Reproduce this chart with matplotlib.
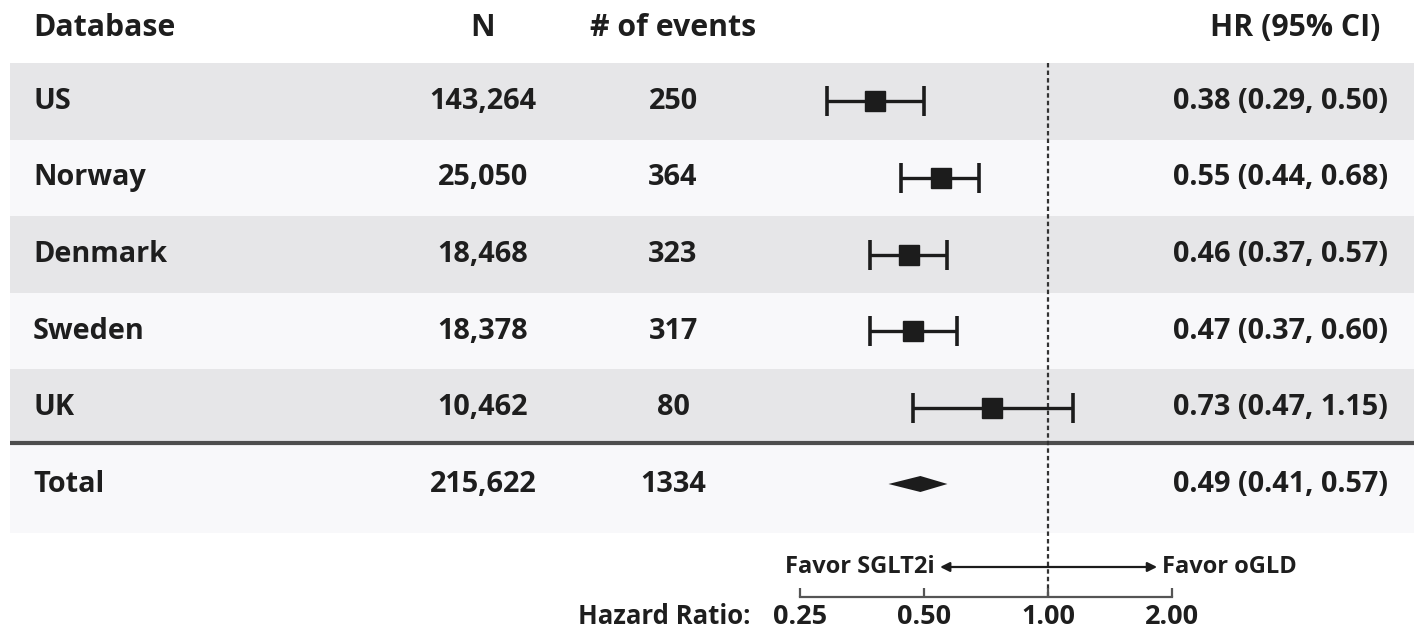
import matplotlib
matplotlib.use("Agg")
import matplotlib.pyplot as plt
import numpy as np

# ---- data ----
databases = ["US", "Norway", "Denmark", "Sweden", "UK"]
n_patients = ["143,264", "25,050", "18,468", "18,378", "10,462"]
n_events = ["250", "364", "323", "317", "80"]
hr = [0.38, 0.55, 0.46, 0.47, 0.73]
hr_lo = [0.29, 0.44, 0.37, 0.37, 0.47]
hr_hi = [0.50, 0.68, 0.57, 0.60, 1.15]
total_label = "Total"
total_n = "215,622"
total_events = "1334"
total_hr, total_lo, total_hi = 0.49, 0.41, 0.57
headers = ["Database", "N", "# of events", "HR (95% CI)"]
hr_ticks = [0.25, 0.50, 1.00, 2.00]
favor_left = "Favor SGLT2i"
favor_right = "Favor oGLD"
axis_title = "Hazard Ratio:"

plt.rcParams['font.family'] = ['Open Sans', 'DejaVu Sans']
W, H = 1414, 633
fig = plt.figure(figsize=(W / 100, H / 100), dpi=100)

axt = fig.add_axes([0, 0, 1, 1])
axt.set_xlim(0, W)
axt.set_ylim(H, 0)
axt.axis("off")

TXT = "#1e1e1e"
GRAY = "#e6e6e8"
LIGHT = "#f8f8fa"
FS = 20.8
FSH = 21.8
FW = "bold"

row_top = 63
row_h = 76.6
x_db, x_n, x_ev, x_hr = 33, 483, 673, 1388

def t(x, y, s, ha, fs=FS):
    axt.text(x, y, s, ha=ha, va="center", fontsize=fs, fontweight=FW, color=TXT)

t(x_db, 28, headers[0], "left", FSH)
t(x_n, 28, headers[1], "center", FSH)
t(x_ev, 28, headers[2], "center", FSH)
t(1380, 28, headers[3], "right", FSH)

centers = []
for i, name in enumerate(databases):
    top = row_top + row_h * i
    axt.axhspan(top, top + row_h, xmin=10 / W, xmax=1, color=GRAY if i % 2 == 0 else LIGHT, lw=0)
    yc = top + row_h / 2
    centers.append(yc)
    t(x_db, yc, name, "left")
    t(x_n, yc, n_patients[i], "center")
    t(x_ev, yc, n_events[i], "center")
    t(x_hr, yc, f"{hr[i]:.2f} ({hr_lo[i]:.2f}, {hr_hi[i]:.2f})", "right")

sep_y = row_top + row_h * 5 - 3
axt.axhspan(sep_y + 2, 533, xmin=10 / W, xmax=1, color=LIGHT, lw=0)
axt.plot([10, W], [sep_y, sep_y], color="#4d4d4d", lw=3, solid_capstyle="butt")
yt = 484
t(x_db, yt, total_label, "left")
t(x_n, yt, total_n, "center")
t(x_ev, yt, total_events, "center")
t(x_hr, yt, f"{total_hr:.2f} ({total_lo:.2f}, {total_hi:.2f})", "right")

# forest axes: log2 HR scale, 124 px per doubling, HR=1 at x=1048
axf = fig.add_axes([0, 0, 1, 1])
axf.patch.set_alpha(0)
axf.set_xscale("log", base=2)
axf.set_xlim(2 ** (-1048 / 124), 2 ** ((W - 1048) / 124))
axf.set_ylim(H, 0)
axf.axis("off")

axf.plot([1, 1], [63, 598], color="#333333", lw=1.6, ls=(0, (2.0, 1.4)), zorder=2)

hr_a = np.array(hr)
axf.errorbar(hr_a, centers, xerr=[hr_a - np.array(hr_lo), np.array(hr_hi) - hr_a],
             fmt="s", color="#1c1c1c", ms=14, lw=2.4, capsize=11, capthick=2.6,
             ecolor="#1c1c1c", zorder=3)

axf.fill([total_lo, total_hr, total_hi, total_hr], [yt, yt - 8, yt, yt + 8],
         color="#1c1c1c", lw=0, zorder=3)

ya = 567
axf.annotate("", xy=(0.547, ya), xytext=(1.84, ya),
             arrowprops=dict(arrowstyle="<|-|>", color="#1c1c1c", lw=1.6, mutation_scale=14,
                             shrinkA=0, shrinkB=0))
axf.text(0.53, ya, favor_left, ha="right", va="center", fontsize=17, fontweight=FW, color=TXT)
axf.text(1.89, ya, favor_right, ha="left", va="center", fontsize=17, fontweight=FW, color=TXT)

yax = 597
axf.plot([hr_ticks[0], hr_ticks[-1]], [yax, yax], color="#555555", lw=1.6, zorder=2)
axf.vlines(hr_ticks, yax - 9, yax, color="#555555", lw=1.6, zorder=2)
for tk in hr_ticks:
    axf.text(tk, 617, f"{tk:.2f}", ha="center", va="center", fontsize=19.5, fontweight=FW, color=TXT)
axf.text(2 ** ((751 - 1048) / 124), 617, axis_title, ha="right", va="center", fontsize=18.5,
         fontweight=FW, color=TXT)

fig.savefig("out.png", dpi=100, facecolor="white")
